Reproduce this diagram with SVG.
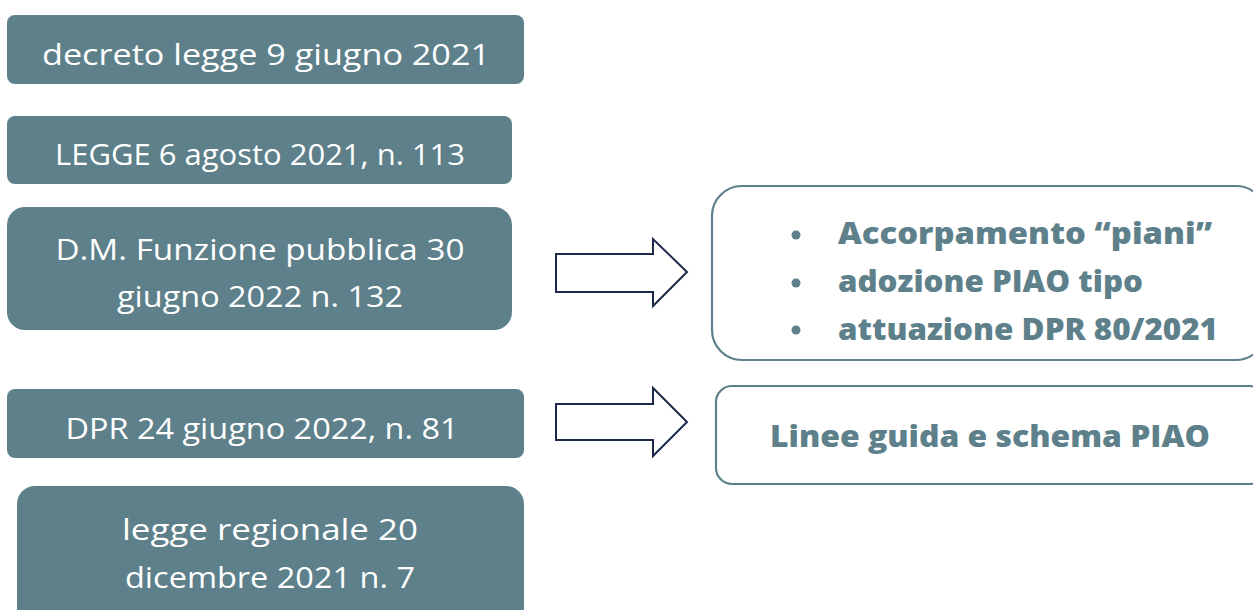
<svg xmlns="http://www.w3.org/2000/svg" width="1253" height="610" viewBox="0 0 1253 610">
  <style>
    .src { fill: #5d808a; }
    .srcText { font-family: "Open Sans", "Liberation Sans", sans-serif; font-size: 29px; fill: #ffffff; text-anchor: middle; }
    .out { fill: #ffffff; stroke: #5d808a; stroke-width: 2.2; }
    .outText { font-family: "Open Sans", "Liberation Sans", sans-serif; font-size: 30px; font-weight: 800; fill: #5d808a; }
    .arrow { fill: #ffffff; stroke: #1c2a4a; stroke-width: 2; stroke-linejoin: miter; }
  </style>

  <rect width="1253" height="610" fill="#ffffff"/>

  <!-- legal sources (left column) -->
  <g id="dl-9-giugno-2021">
    <rect class="src" x="7" y="15" width="517" height="69" rx="8"/>
    <text class="srcText" x="266" y="65" textLength="448" lengthAdjust="spacingAndGlyphs">decreto legge 9 giugno 2021</text>
  </g>
  <g id="legge-113-2021">
    <rect class="src" x="7" y="116" width="505" height="68" rx="8"/>
    <text class="srcText" x="260" y="165" textLength="410" lengthAdjust="spacingAndGlyphs">LEGGE 6 agosto 2021, n. 113</text>
  </g>
  <g id="dm-132-2022">
    <rect class="src" x="7" y="207" width="505" height="123" rx="18"/>
    <text class="srcText" x="260" y="260" textLength="409" lengthAdjust="spacingAndGlyphs">D.M. Funzione pubblica 30</text>
    <text class="srcText" x="260" y="307" textLength="286" lengthAdjust="spacingAndGlyphs">giugno 2022 n. 132</text>
  </g>
  <g id="dpr-81-2022">
    <rect class="src" x="7" y="389" width="517" height="69" rx="8"/>
    <text class="srcText" x="262" y="439" textLength="393" lengthAdjust="spacingAndGlyphs">DPR 24 giugno 2022, n. 81</text>
  </g>
  <g id="lr-7-2021">
    <rect class="src" x="17" y="486" width="507" height="140" rx="18"/>
    <text class="srcText" x="270" y="540" textLength="296" lengthAdjust="spacingAndGlyphs">legge regionale 20</text>
    <text class="srcText" x="270" y="588" textLength="290" lengthAdjust="spacingAndGlyphs">dicembre 2021 n. 7</text>
  </g>

  <!-- outcomes (right column) -->
  <g id="esiti-dm">
    <rect class="out" x="712" y="186" width="554" height="174" rx="30"/>
    <circle cx="796" cy="235" r="4.5" fill="#5d808a"/>
    <circle cx="796" cy="283" r="4.5" fill="#5d808a"/>
    <circle cx="796" cy="330" r="4.5" fill="#5d808a"/>
    <text class="outText" x="838" y="244" textLength="374" lengthAdjust="spacingAndGlyphs">Accorpamento “piani”</text>
    <text class="outText" x="838" y="292" textLength="305" lengthAdjust="spacingAndGlyphs">adozione PIAO tipo</text>
    <text class="outText" x="838" y="340" textLength="380" lengthAdjust="spacingAndGlyphs">attuazione DPR 80/2021</text>
  </g>
  <g id="esiti-dpr">
    <rect class="out" x="716" y="386" width="550" height="98" rx="16"/>
    <text class="outText" x="770" y="447" font-size="28" textLength="440" lengthAdjust="spacingAndGlyphs">Linee guida e schema PIAO</text>
  </g>

  <!-- block arrows linking sources to outcomes -->
  <g id="connectors">
    <polygon class="arrow" points="556,254 653,254 653,239 687,272 653,306 653,292 556,292"/>
    <polygon class="arrow" points="556,404 653,404 653,388 687,422 653,456 653,440 556,440"/>
  </g>
</svg>
